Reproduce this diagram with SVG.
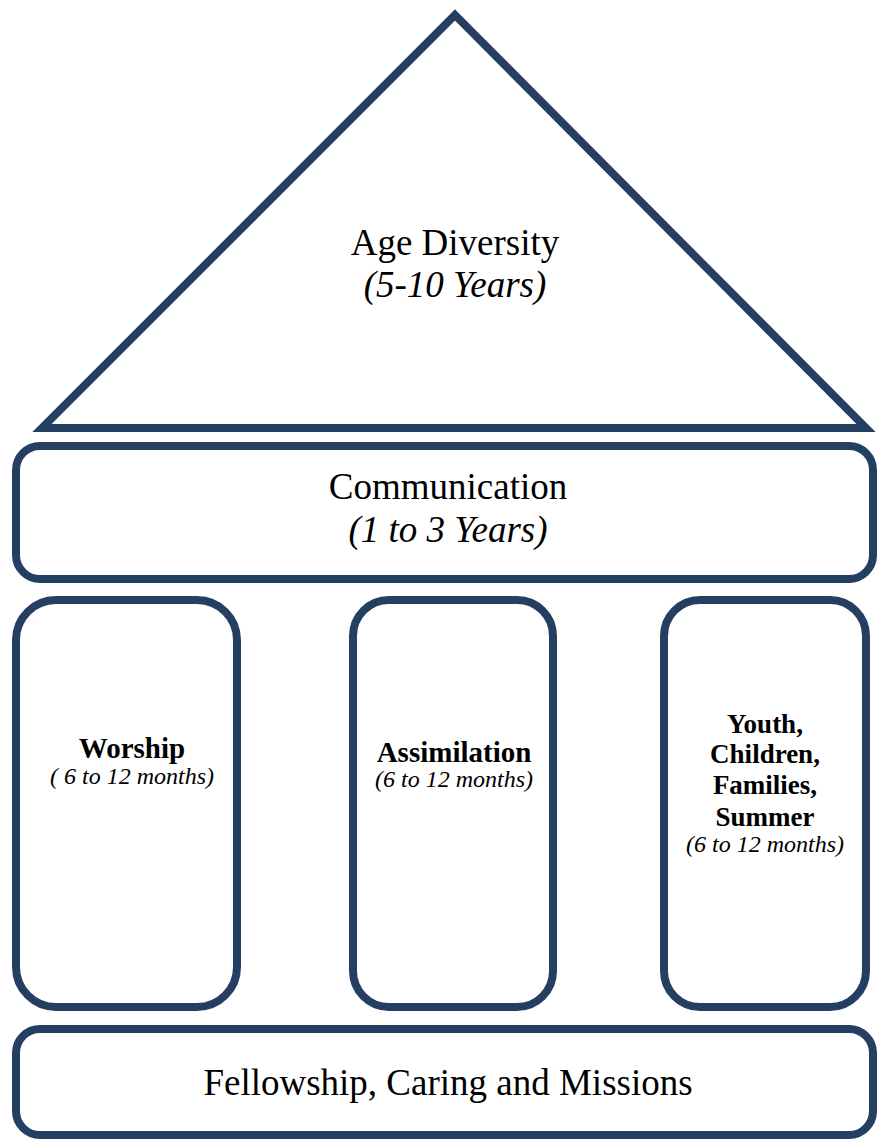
<svg xmlns="http://www.w3.org/2000/svg" width="877" height="1139" viewBox="0 0 877 1139">
<style>
.s{fill:#fff;stroke:#243f61;stroke-width:8}
.t{font-family:"Liberation Serif","Times New Roman",serif;fill:#000;text-anchor:middle}
.big{font-size:37px}
.i{font-style:italic}
.b{font-weight:bold;font-size:29px}
.y{font-weight:bold;font-size:27px}
.sm{font-size:24px;font-style:italic}
</style>
<rect width="877" height="1139" fill="#fff"/>
<g id="roof">
<polygon class="s" points="455,15 866,428 42,428" stroke-linejoin="miter"/>
<text class="t big" x="455" y="255">Age Diversity</text>
<text class="t big i" x="455" y="297">(5-10 Years)</text>
</g>
<g id="communication">
<rect class="s" x="16" y="446" width="857" height="133" rx="24"/>
<text class="t big" x="448" y="499">Communication</text>
<text class="t big i" x="448" y="542">(1 to 3 Years)</text>
</g>
<g id="worship">
<rect class="s" x="16" y="600" width="221" height="407" rx="40"/>
<text class="t b" x="132" y="758">Worship</text>
<text class="t sm" x="132" y="784">( 6 to 12 months)</text>
</g>
<g id="assimilation">
<rect class="s" x="353" y="600" width="200" height="407" rx="36"/>
<text class="t b" x="454" y="762">Assimilation</text>
<text class="t sm" x="454" y="787">(6 to 12 months)</text>
</g>
<g id="youth">
<rect class="s" x="664" y="600" width="202" height="407" rx="36"/>
<text class="t y" x="765" y="733">Youth,</text>
<text class="t y" x="765" y="763">Children,</text>
<text class="t y" x="765" y="794">Families,</text>
<text class="t y" x="765" y="826">Summer</text>
<text class="t sm" x="765" y="852">(6 to 12 months)</text>
</g>
<g id="fellowship">
<rect class="s" x="16" y="1029" width="857" height="106" rx="24"/>
<text class="t big" x="448" y="1095">Fellowship, Caring and Missions</text>
</g>
<g id="connectors"></g>
</svg>
